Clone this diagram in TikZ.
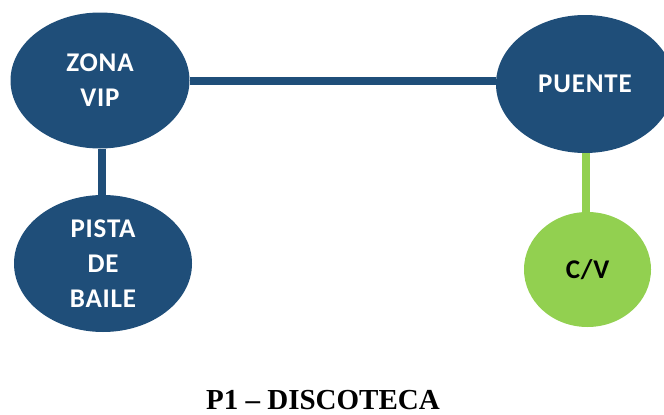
\documentclass[tikz,border=0pt]{standalone}
\usepackage{fontspec}
\usetikzlibrary{shapes.geometric}
\setmainfont{Liberation Serif}
\newfontfamily\zonefont[LetterSpace=3]{Carlito}
\definecolor{zoneblue}{HTML}{1F4E79}
\definecolor{zonegreen}{HTML}{92D050}

\begin{document}
\begin{tikzpicture}[x=1pt, y=-1pt,
    zone/.style={ellipse, fill=zoneblue, inner sep=0pt, text=white, align=center,
        font=\zonefont\bfseries\fontsize{27}{35}\selectfont},
    link/.style={line width=8pt, draw=zoneblue}]
    \useasboundingbox (0,0) rectangle (664,415);
    % Zones
    \node[zone, minimum width=179, minimum height=136] (zona) at (100,80.5) {ZONA\\VIP};
    \node[zone, minimum width=178, minimum height=137] (pista) at (103,263.5) {PISTA\\DE\\BAILE};
    \node[zone, minimum width=178, minimum height=138] (puente) at (585,84) {PUENTE};
    \node[zone, fill=zonegreen, text=black, minimum width=127, minimum height=115] (cv) at (587.5,269.5) {C/V};
    % Links
    \draw[link] (zona) -- (zona -| puente.west);
    \draw[link] (zona.south) ++(1.5,0) coordinate (zs) -- (zs |- pista.north);
    \draw[link, draw=zonegreen] (puente.south) ++(1,0) coordinate (ps) -- (ps |- cv.north);
    % Title
    \node[inner sep=0pt, anchor=base, font=\bfseries\fontsize{29}{32}\selectfont] (title) at (323,409) {P1 -- DISCOTECA};
\end{tikzpicture}
\end{document}
